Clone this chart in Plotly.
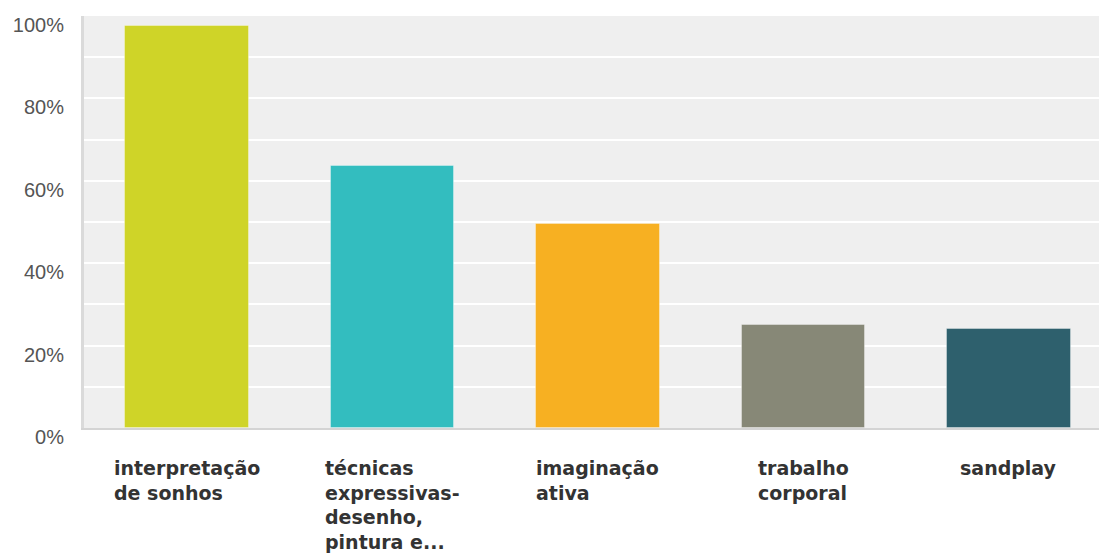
import plotly.graph_objects as go

# Survey answers (share of respondents, %)
categories = ["interpretação de sonhos", "técnicas expressivas- desenho, pintura e...",
              "imaginação ativa", "trabalho corporal", "sandplay"]
label_lines = [
    ["interpretação", "de sonhos"],
    ["técnicas", "expressivas-", "desenho,", "pintura e..."],
    ["imaginação", "ativa"],
    ["trabalho", "corporal"],
    ["sandplay"],
]
values = [97.6, 63.6, 49.5, 25.0, 24.0]
colors = ["#CFD428", "#33BDBF", "#F7B022", "#878877", "#2E606D"]

y_ticks = [0, 20, 40, 60, 80, 100]
y_tick_text = ["0%", "20%", "40%", "60%", "80%", "100%"]

fig = go.Figure(
    go.Bar(
        x=list(range(len(categories))),
        y=values,
        width=0.603,
        marker=dict(color=colors, line=dict(color="rgba(255,255,255,0.35)", width=1)),
        hovertext=categories,
        hoverinfo="text+y",
    )
)

# Category labels: wrapped, lines left-aligned, block centred under each bar
for i, lines in enumerate(label_lines):
    fig.add_annotation(
        x=i, xref="x", y=0, yref="paper",
        text="<br>".join(lines),
        showarrow=False,
        xanchor="center", yanchor="top", align="left",
        yshift=-27,
        font=dict(family="DejaVu Sans", size=19, color="#333333", weight="bold"),
    )

fig.update_layout(
    width=1099, height=559,
    margin=dict(l=84, r=0, t=16, b=131),
    paper_bgcolor="white",
    plot_bgcolor="#EFEFEF",
    showlegend=False,
    bargap=0,
)

fig.update_xaxes(
    range=[-0.501, 4.438],
    showticklabels=False,
    showgrid=False, zeroline=False,
    showline=True, linecolor="#D4D4D4", linewidth=2,
    fixedrange=True,
)

fig.update_yaxes(
    range=[0, 100],
    tickvals=y_ticks, ticktext=y_tick_text,
    tickfont=dict(family="Liberation Sans", size=20, color="#555555"),
    ticklabelstandoff=13,
    ticklabelshift=9,
    showgrid=True, gridcolor="white", gridwidth=2,
    minor=dict(dtick=10, showgrid=True, gridcolor="white", gridwidth=2),
    zeroline=False,
    showline=True, linecolor="#DADADA", linewidth=3,
    fixedrange=True,
)

fig.write_html("out.html")
